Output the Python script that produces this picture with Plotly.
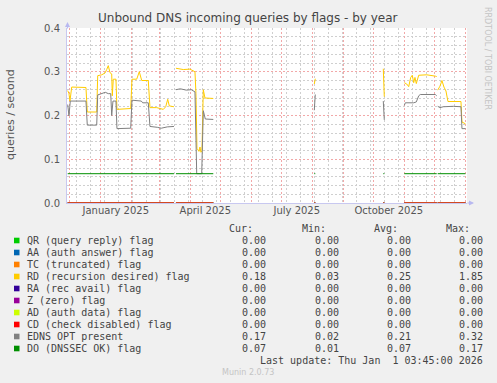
import plotly.graph_objects as go
import pandas as pd

# ---------------- data ----------------
rd_dates = [
    "2024-11-29 10:00", "2024-11-30 16:00", "2024-12-01 16:00", "2024-12-03 10:00",
    "2024-12-17 16:00", "2024-12-19 00:00", "2024-12-28 10:00", "2024-12-29 10:00",
    "2025-01-02 10:00", "2025-01-05 16:00", "2025-01-07 10:00", "2025-01-09 00:00",
    "2025-01-10 16:00", "2025-01-12 10:00", "2025-01-13 00:00", "2025-01-14 00:00",
    "2025-01-16 16:00", "2025-01-17 16:00", "2025-01-31 10:00", "2025-02-01 16:00",
    "2025-02-06 10:00", "2025-02-09 00:00", "2025-02-11 10:00", "2025-02-18 00:00",
    "2025-02-19 16:00", "2025-02-26 10:00", "2025-03-05 00:00", "2025-03-07 10:00",
    "2025-03-09 10:00", "2025-03-11 00:00", "2025-03-15 16:00", "2025-03-16 16:00",
    "2025-03-17 16:00", "2025-03-25 00:00", "2025-03-31 16:00", "2025-04-05 16:00",
    "2025-04-06 16:00", "2025-04-07 16:00", "2025-04-09 16:00", "2025-04-10 16:00",
    "2025-04-11 16:00", "2025-04-12 16:00", "2025-04-14 00:00", "2025-04-15 16:00",
    "2025-04-24 00:00", "2025-05-01 00:00",
    "2025-08-03 00:00", "2025-08-04 00:00", "2025-08-10 00:00",
    "2025-10-11 00:00", "2025-10-12 00:00", "2025-10-20 00:00",
    "2025-11-01 00:00", "2025-11-03 10:00", "2025-11-05 10:00", "2025-11-07 10:00",
    "2025-11-09 00:00", "2025-11-10 10:00", "2025-11-11 16:00", "2025-11-13 00:00",
    "2025-11-15 10:00", "2025-11-23 10:00", "2025-12-02 00:00", "2025-12-03 10:00",
    "2025-12-03 22:00",
    "2025-12-04 10:00", "2025-12-06 16:00", "2025-12-08 16:00", "2025-12-10 16:00",
    "2025-12-12 16:00", "2025-12-14 16:00", "2025-12-26 16:00", "2025-12-27 16:00",
    "2025-12-28 16:00", "2026-01-01 03:45",
]
rd_values = [
    0.257, 0.250, 0.233, 0.265,
    0.264, 0.208, 0.208, 0.291,
    0.293, 0.297, 0.305, 0.314,
    0.298, 0.295, 0.245, 0.283,
    0.283, 0.214, 0.216, 0.283,
    0.283, 0.300, 0.280, 0.280,
    0.218, 0.218, 0.214, 0.220,
    0.237, 0.222, 0.220, None,
    0.308, 0.305, 0.306, 0.300,
    0.250, 0.125, 0.118, 0.128,
    0.116, 0.120, 0.259, 0.240,
    0.239, None,
    0.272, 0.284, None,
    0.307, 0.243, None,
    0.275, 0.272, 0.266, 0.287,
    0.292, 0.275, 0.287, 0.273,
    0.292, 0.293, 0.290, 0.289,
    None,
    0.258, 0.267, 0.280, 0.265,
    0.256, 0.232, 0.232, 0.232,
    0.185, 0.181,
]

edns_dates = [
    "2024-11-29 10:00", "2024-11-30 16:00", "2024-12-02 00:00", "2024-12-17 16:00",
    "2024-12-19 00:00", "2024-12-28 10:00", "2024-12-29 10:00", "2025-01-03 00:00",
    "2025-01-06 00:00", "2025-01-09 00:00", "2025-01-11 10:00", "2025-01-12 10:00",
    "2025-01-13 16:00", "2025-01-16 16:00", "2025-01-17 16:00", "2025-01-31 10:00",
    "2025-02-01 16:00", "2025-02-11 00:00", "2025-02-12 10:00", "2025-02-18 00:00",
    "2025-02-19 16:00", "2025-02-27 00:00", "2025-03-03 00:00", "2025-03-09 00:00",
    "2025-03-15 16:00", "2025-03-16 16:00",
    "2025-03-17 16:00", "2025-03-22 00:00", "2025-03-28 00:00", "2025-04-02 00:00",
    "2025-04-05 16:00", "2025-04-07 10:00", "2025-04-12 10:00", "2025-04-14 00:00",
    "2025-04-16 00:00", "2025-04-24 00:00", "2025-05-01 00:00",
    "2025-08-03 00:00", "2025-08-04 00:00", "2025-08-10 00:00",
    "2025-10-11 00:00", "2025-10-12 00:00", "2025-10-20 00:00",
    "2025-11-01 00:00", "2025-11-02 00:00", "2025-11-10 10:00", "2025-11-13 00:00",
    "2025-11-15 10:00", "2025-11-17 00:00", "2025-12-02 00:00", "2025-12-03 10:00",
    "2025-12-03 22:00",
    "2025-12-04 10:00", "2025-12-06 16:00", "2025-12-10 00:00", "2025-12-20 00:00",
    "2025-12-27 16:00", "2025-12-28 16:00", "2026-01-01 03:45",
]
edns_values = [
    0.225, 0.199, 0.233, 0.233,
    0.178, 0.178, 0.247, 0.250,
    0.253, 0.250, 0.250, 0.200,
    0.233, 0.233, 0.170, 0.171,
    0.235, 0.233, 0.229, 0.229,
    0.175, 0.173, 0.171, 0.174,
    0.175, None,
    0.259, 0.261, 0.258, 0.259,
    0.254, 0.067, 0.067, 0.211,
    0.192, 0.191, None,
    0.212, 0.248, None,
    0.233, 0.190, None,
    0.223, 0.229, 0.229, 0.231,
    0.245, 0.248, 0.248, 0.245,
    None,
    0.221, 0.218, 0.220, 0.221,
    0.220, 0.170, 0.170,
]

# DO flag and the all-zero flags share these sample dates
flag_dates = [
    "2024-11-29 10:00", "2025-03-15 16:00", "2025-03-16 16:00",
    "2025-03-17 16:00", "2025-04-24 00:00", "2025-05-01 00:00",
    "2025-08-03 00:00", "2025-08-04 00:00", "2025-08-10 00:00",
    "2025-10-11 00:00", "2025-10-12 00:00", "2025-10-20 00:00",
    "2025-11-01 00:00", "2025-12-03 10:00", "2025-12-03 22:00",
    "2025-12-04 10:00", "2026-01-01 03:45",
]
do_values = [0.067, 0.067, None, 0.067, 0.067, None, 0.067, 0.067, None,
             0.067, 0.067, None, 0.067, 0.067, None, 0.067, 0.067]
zero_values = [0, 0, None, 0, 0, None, 0, 0, None, 0, 0, None, 0, 0, None, 0, 0]

series_names = [
    "QR (query reply) flag", "AA (auth answer) flag", "TC (truncated) flag",
    "RD (recursion desired) flag", "RA (rec avail) flag", "Z (zero) flag",
    "AD (auth data) flag", "CD (check disabled) flag", "EDNS OPT present",
    "DO (DNSSEC OK) flag",
]
series_colors = ["#00CC00", "#0066B3", "#FF8000", "#FFCC00", "#330099",
                 "#990099", "#CCFF00", "#FF0000", "#808080", "#008F00"]
cur_vals = ["0.00", "0.00", "0.00", "0.18", "0.00", "0.00", "0.00", "0.00", "0.17", "0.07"]
min_vals = ["0.00", "0.00", "0.00", "0.03", "0.00", "0.00", "0.00", "0.00", "0.02", "0.01"]
avg_vals = ["0.00", "0.00", "0.00", "0.25", "0.00", "0.00", "0.00", "0.00", "0.21", "0.07"]
max_vals = ["0.00", "0.00", "0.00", "1.85", "0.00", "0.00", "0.00", "0.00", "0.32", "0.17"]

x_tick_vals = ["2025-01-16 12:00", "2025-04-16 00:00", "2025-07-16 12:00", "2025-10-16 12:00"]
x_tick_text = ["January 2025", "April 2025", "July 2025", "October 2025"]
x_range = ["2024-11-28 17:00", "2026-01-02 17:00"]

title_text = "Unbound DNS incoming queries by flags - by year"
y_title = "queries / second"
last_update = "Last update: Thu Jan  1 03:45:00 2026"
footer = "Munin 2.0.73"
side_text = "RRDTOOL / TOBI OETIKER"

# ---------------- figure ----------------
W, H = 497, 383
L, R, T, B = 67, 467, 28, 203


def px(x):
    return (x - L) / (R - L)


def py(y):
    return (B - y) / (B - T)


# gridline positions (not data)
month_grid = [d.strftime("%Y-%m-%d") for d in pd.date_range("2024-12-01", "2026-01-01", freq="MS")]
week_grid = [d.strftime("%Y-%m-%d") for d in pd.date_range("2024-12-08", "2026-01-01", freq="14D")]

fig = go.Figure()
series_x = {3: rd_dates, 8: edns_dates}
series_y = {3: rd_values, 8: edns_values, 9: do_values}
for i, name in enumerate(series_names):
    xs = series_x.get(i, flag_dates)
    ys = series_y.get(i, zero_values)
    fig.add_trace(go.Scatter(
        x=xs, y=ys, name=name, mode="lines",
        line=dict(color=series_colors[i], width=1),
        connectgaps=False, showlegend=False, hoverinfo="skip",
    ))
# invisible traces for helper axes
fig.add_trace(go.Scatter(x=x_range, y=[None, None], xaxis="x2", showlegend=False,
                         hoverinfo="skip"))
fig.add_trace(go.Scatter(x=x_range, y=[None, None], xaxis="x3", showlegend=False,
                         hoverinfo="skip"))

grid_major = "#F2A8A8"
grid_minor = "#CFCFCF"
axis_col = "#C8C8F0"
dash = "2px,2px"

fig.update_layout(
    width=W, height=H,
    margin=dict(l=L, r=W - R, t=T, b=H - B),
    paper_bgcolor="#F0F0F0", plot_bgcolor="#FFFFFF",
    font=dict(family="DejaVu Sans", size=10, color="#555555"),
    xaxis=dict(
        type="date", range=x_range, showticklabels=False, ticks="",
        tickmode="array", tickvals=week_grid,
        showgrid=True, gridcolor=grid_minor, griddash=dash, gridwidth=1,
        showline=True, linecolor=axis_col, linewidth=1, zeroline=False,
    ),
    xaxis3=dict(
        type="date", range=x_range, overlaying="x", anchor="y", side="bottom",
        tickmode="array", tickvals=month_grid, showticklabels=False, ticks="",
        showgrid=True, gridcolor=grid_major, griddash=dash, gridwidth=1,
        showline=False, zeroline=False,
    ),
    xaxis2=dict(
        type="date", range=x_range, overlaying="x", anchor="y", side="bottom",
        tickmode="array", tickvals=x_tick_vals, ticktext=x_tick_text,
        showgrid=False, ticks="", showline=False, zeroline=False,
        tickfont=dict(family="DejaVu Sans", size=10, color="#555555"),
    ),
    yaxis=dict(
        range=[0, 0.4], tickmode="linear", tick0=0, dtick=0.1, tickformat=".1f",
        showgrid=True, gridcolor=grid_major, griddash=dash, gridwidth=1,
        minor=dict(showgrid=True, gridcolor=grid_minor, griddash=dash,
                   tickmode="linear", tick0=0, dtick=0.02, ticks=""),
        showline=True, linecolor=axis_col, linewidth=1, zeroline=False, ticks="",
        tickfont=dict(family="DejaVu Sans", size=10, color="#555555"),
        ticklabelstandoff=4,
    ),
)

ann = []
shapes = []
ann.append(dict(text=title_text, x=px(248), y=py(18), xref="paper", yref="paper",
                xanchor="center", yanchor="middle", showarrow=False,
                font=dict(family="DejaVu Sans", size=12, color="#444444")))
ann.append(dict(text=y_title, x=px(10), y=py(115), xref="paper", yref="paper",
                textangle=-90, xanchor="center", yanchor="middle", showarrow=False,
                font=dict(family="DejaVu Sans", size=11, color="#555555")))
ann.append(dict(text=side_text, x=px(487), y=py(58), xref="paper", yref="paper",
                textangle=90, xanchor="center", yanchor="middle", showarrow=False,
                font=dict(family="DejaVu Sans", size=8, color="#C4C4C4")))
# axis arrows
ann.append(dict(x=px(67.5), y=py(22), ax=0, ay=8, xref="paper", yref="paper",
                showarrow=True, arrowhead=2, arrowsize=1, arrowwidth=1,
                arrowcolor="#B8B8F0", text=""))
ann.append(dict(x=px(474), y=py(203), ax=-8, ay=0, xref="paper", yref="paper",
                showarrow=True, arrowhead=2, arrowsize=1, arrowwidth=1,
                arrowcolor="#B8B8F0", text=""))

mono = dict(family="DejaVu Sans Mono", size=10, color="#444444")
header_y = 228.5
for label, xe in zip(["Cur:", "Min:", "Avg:", "Max:"], [254, 327, 399, 471]):
    ann.append(dict(text=label, x=px(xe), y=py(header_y), xref="paper", yref="paper",
                    xanchor="right", yanchor="middle", showarrow=False, font=mono,
                    borderpad=0))
for i, name in enumerate(series_names):
    yc = 240.5 + 12 * i
    shapes.append(dict(type="rect", xref="paper", yref="paper",
                       x0=px(14), x1=px(19.5), y0=py(yc - 2.8), y1=py(yc + 2.8),
                       fillcolor=series_colors[i], line=dict(width=0)))
    ann.append(dict(text=name, x=px(25.5), y=py(yc), xref="paper", yref="paper",
                    xanchor="left", yanchor="middle", showarrow=False, font=mono,
                    borderpad=0))
    for vals, xe in zip([cur_vals, min_vals, avg_vals, max_vals], [266.5, 339.5, 411.5, 483.5]):
        ann.append(dict(text=vals[i], x=px(xe), y=py(yc), xref="paper", yref="paper",
                        xanchor="right", yanchor="middle", showarrow=False, font=mono,
                        borderpad=0))
ann.append(dict(text=last_update.replace("  ", "\u00a0\u00a0"), x=px(483.5), y=py(360.5),
                xref="paper", yref="paper", xanchor="right", yanchor="middle",
                showarrow=False, font=mono, borderpad=0))
ann.append(dict(text=footer, x=px(248), y=py(372), xref="paper", yref="paper",
                xanchor="center", yanchor="middle", showarrow=False,
                font=dict(family="DejaVu Sans", size=8, color="#C4C4C4")))

fig.update_layout(annotations=ann, shapes=shapes)
fig.write_html("out.html")
